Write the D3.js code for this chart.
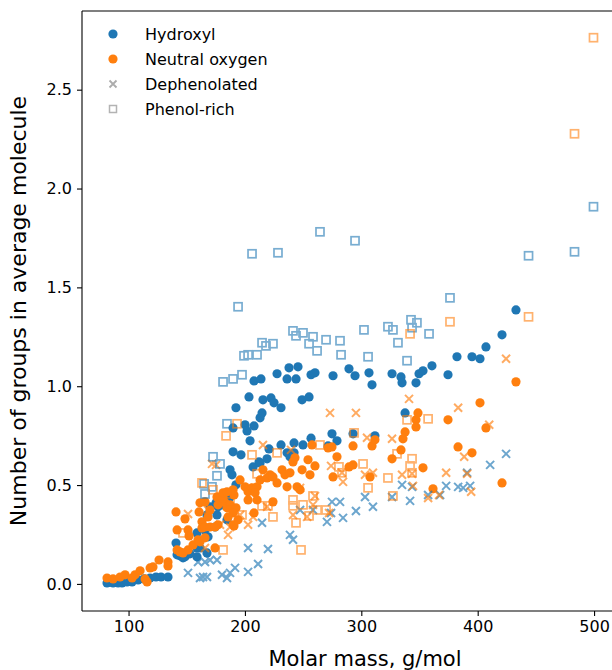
<!DOCTYPE html>
<html>
<head>
<meta charset="utf-8">
<script src="https://cdn.jsdelivr.net/npm/d3@7"></script>
<style>
  html, body { margin: 0; padding: 0; background: #fff; }
  svg { display: block; font-family: "DejaVu Sans", sans-serif; }
</style>
</head>
<body>
<svg id="chart" width="612" height="670"></svg>
<script>
// [molar mass (g/mol), groups per average molecule]
const hydroxyl = [
  [81.5,0.005],[86.7,0.005],[91.0,0.005],[94.4,0.005],[98.7,0.010],[103.0,0.010],[108.2,0.020],[113.3,0.025],
  [118.5,0.030],[123.6,0.035],[127.9,0.035],[133.9,0.035],
  [140.8,0.207],[141.7,0.147],[144.2,0.142],[146.8,0.132],[148.5,0.137],[152.8,0.152],[158.8,0.182],[158.8,0.258],
  [158.8,0.137],[161.4,0.182],[165.7,0.273],[167.4,0.157],[168.3,0.238],[164.0,0.288],[167.4,0.349],[170.0,0.390],
  [174.3,0.288],[175.2,0.410],[176.9,0.435],[176.0,0.349],[176.9,0.390],[184.6,0.324],[184.6,0.450],[187.2,0.440],
  [187.2,0.577],[188.9,0.552],[192.3,0.501],[181.2,0.400],[189.8,0.668],[196.6,0.653],[189.8,0.789],[200.1,0.805],
  [207.8,0.799],[201.8,0.774],[204.4,0.724],[213.0,0.840],[214.7,0.865],[212.1,0.617],[207.0,0.592],[213.0,0.612],
  [219.0,0.633],[220.7,0.683],[231.0,0.703],[236.2,0.663],[238.7,0.643],[242.2,0.713],[242.2,0.663],[249.9,0.703],
  [256.8,0.737],
  [192.3,0.891],[203.5,0.946],[207.8,1.027],[213.8,1.037],[215.5,0.931],[222.4,0.941],[225.0,0.916],[231.0,0.891],
  [227.6,1.063],[237.9,1.093],[245.6,1.098],[236.2,1.037],[243.9,1.037],[249.1,0.931],[255.1,0.946],[256.8,1.058],
  [260.2,1.068],[275.7,1.053],[289.4,1.088],[294.6,1.053],[306.6,1.068],[309.2,1.007],[326.4,1.063],[334.1,1.047],
  [335.0,1.017],[347.0,1.017],[349.6,1.063],[353.0,1.078],[360.7,1.103],[374.5,1.058],[382.2,1.149],[395.1,1.149],
  [402.0,1.139],[407.1,1.199],[420.9,1.260],[432.9,1.386],
  [274.8,0.759],[279.1,0.724],[292.9,0.759],[311.7,0.749],[271.4,0.698],[337.6,0.865]
];

const neutralOxygen = [
  [81.5,0.030],[86.7,0.025],[92.7,0.035],[97.0,0.046],[103.0,0.030],[105.6,0.046],[109.9,0.066],[114.2,0.025],
  [115.9,0.010],[118.5,0.081],[121.0,0.086],[126.2,0.121],[133.9,0.111],[133.9,0.091],
  [140.8,0.364],[141.7,0.273],[148.5,0.329],[151.1,0.273],[152.0,0.243],[141.7,0.172],[144.2,0.162],[146.8,0.157],
  [151.1,0.172],[155.4,0.197],[159.7,0.223],[161.4,0.213],[165.7,0.233],[160.6,0.364],[163.1,0.314],[163.1,0.283],
  [165.7,0.288],[168.3,0.339],[161.4,0.410],[165.7,0.415],[170.0,0.374],[174.3,0.182],[176.0,0.440],[176.9,0.400],
  [176.9,0.299],[184.6,0.385],[182.9,0.410],[170.0,0.288],[174.3,0.288],[181.2,0.435],[181.2,0.461],[187.2,0.400],
  [190.6,0.450],[192.3,0.385],[195.8,0.526],[200.1,0.491],[202.7,0.466],[206.1,0.486],[210.4,0.491],[208.7,0.461],
  [213.0,0.526],[215.5,0.577],[219.0,0.536],[221.6,0.552],[224.1,0.541],[227.6,0.511],[231.9,0.577],[234.4,0.552],
  [238.7,0.562],[241.3,0.617],[243.0,0.638],[236.2,0.491],[244.8,0.491],[249.1,0.577],[254.2,0.628],[224.1,0.415],
  [207.8,0.359],[189.8,0.299],[189.8,0.476],[184.6,0.466],[189.8,0.359],[185.5,0.339],[194.1,0.324],[190.6,0.293],
  [202.7,0.425],[210.4,0.425],[255.9,0.552],[260.2,0.597],[257.6,0.703],
  [271.4,0.688],[274.8,0.693],[279.1,0.643],[292.9,0.698],[309.2,0.698],[311.7,0.729],[292.9,0.602],[289.4,0.592],
  [326.4,0.633],[334.1,0.678],[335.8,0.734],[337.6,0.769],[347.0,0.830],[347.0,0.794],[348.7,0.865],[353.0,0.587],
  [361.6,0.481],[275.7,0.541],[307.5,0.541],[374.5,0.830],[383.1,0.693],[395.1,0.663],[402.0,0.916],[407.1,0.789],
  [420.9,0.511],[432.9,1.022],[247.4,0.476]
];

// dephenolated fractions
const dephenolatedHydroxyl = [
  [151.1,0.056],[159.7,0.111],[161.4,0.030],[164.0,0.035],[167.4,0.035],[165.7,0.111],[170.0,0.121],[176.0,0.121],
  [180.3,0.046],[184.6,0.030],[187.2,0.056],[191.5,0.081],[202.7,0.061],[211.3,0.101],[202.7,0.182],[219.8,0.177],
  [214.7,0.309],[238.7,0.248],[241.3,0.223],[247.4,0.374],[258.5,0.374],[270.5,0.314],[274.8,0.415],[281.7,0.415],
  [274.0,0.359],[284.3,0.334],[295.4,0.369],[303.2,0.440],[310.0,0.390],[326.4,0.440],[335.0,0.501],[343.6,0.491],
  [341.9,0.420],[357.4,0.450],[367.7,0.450],[372.9,0.496],[383.2,0.491],[387.5,0.486],[393.5,0.496],[390.9,0.562],
  [410.7,0.602],[424.4,0.658]
];

const dephenolatedNeutral = [
  [151.1,0.354],[171.7,0.607],[175.2,0.602],[165.7,0.182],[168.3,0.374],[185.5,0.248],[202.7,0.299],[195.8,0.349],
  [178.6,0.299],[187.2,0.288],[215.5,0.703],[202.7,0.486],[207.0,0.339],[219.0,0.390],[239.6,0.678],[241.3,0.349],
  [247.4,0.486],[253.4,0.339],[260.2,0.445],[258.5,0.400],[273.1,0.865],[295.4,0.865],[341.0,0.936],[383.2,0.891],
  [409.9,0.805],[424.4,1.139],[304.9,0.739],[326.4,0.734],[388.4,0.643],[274.0,0.597],[283.4,0.562],[284.3,0.516],
  [303.2,0.552],[310.0,0.562],[335.0,0.552],[344.4,0.496],[343.6,0.557],[372.9,0.562],[390.9,0.557],[394.4,0.466],
  [357.4,0.435],[366.8,0.450],[272.3,0.359]
];

// phenol-rich fractions
const phenolRichHydroxyl = [
  [264.5,1.781],[294.6,1.736],[206.1,1.670],[228.4,1.675],[194.1,1.402],[241.3,1.280],[243.9,1.255],[249.9,1.270],
  [258.5,1.250],[269.7,1.235],[281.7,1.230],[255.1,1.215],[262.0,1.179],[214.7,1.220],[218.1,1.204],[224.1,1.215],
  [282.6,1.159],[199.2,1.154],[202.7,1.159],[210.4,1.159],[181.2,1.022],[189.8,1.037],[197.5,1.058],[443.7,1.660],
  [483.2,1.680],[499.5,1.908],[376.2,1.447],[302.3,1.285],[322.9,1.301],[327.2,1.285],[342.7,1.336],[347.8,1.321],
  [343.6,1.296],[331.5,1.220],[358.2,1.265],[305.8,1.149],[339.3,1.129],[184.6,0.810],[172.6,0.643],[178.6,0.607],
  [176.0,0.547],[164.9,0.506],[171.7,0.491],[165.7,0.455]
];

const phenolRichNeutral = [
  [499.5,2.763],[483.2,2.277],[443.7,1.351],[376.2,1.326],[341.9,1.265],[339.3,0.830],[357.4,0.835],[293.8,0.764],
  [264.5,0.703],[330.7,0.658],[343.6,0.633],[341.9,0.597],[343.6,0.562],[301.5,0.607],[280.8,0.592],[283.4,0.562],
  [322.9,0.536],[305.8,0.486],[327.2,0.445],[258.5,0.445],[255.1,0.344],[262.0,0.374],[269.7,0.374],[248.2,0.172],
  [183.8,0.749],[193.2,0.810],[206.1,0.653],[210.4,0.557],[227.6,0.663],[214.7,0.395],[219.8,0.395],[241.3,0.425],
  [241.3,0.395],[243.9,0.309],[224.1,0.339],[197.5,0.349],[181.2,0.172],[163.1,0.511],[172.6,0.476],[146.8,0.258],
  [249.9,0.400],[187.2,0.415]
];

const legendLabels = ["Hydroxyl", "Neutral oxygen", "Dephenolated", "Phenol-rich"];
const xTicks = [100, 200, 300, 400, 500];
const yTicks = [0, 0.5, 1.0, 1.5, 2.0, 2.5];
const xTitle = "Molar mass, g/mol";
const yTitle = "Number of groups in average molecule";

const BLUE = "#1f77b4", ORANGE = "#ff7f0e", GREY = "#808080";

const svg = d3.select("#chart");
const plotLeft = 82, plotTop = 11, plotBottom = 611, plotRight = 622;

const x = d3.scaleLinear().domain([60, 524]).range([plotLeft, plotRight]);
const y = d3.scaleLinear().domain([-0.137, 2.898]).range([plotBottom, plotTop]);

const plot = svg.append("g");

function circles(data, color) {
  plot.append("g").selectAll("circle").data(data).join("circle")
    .attr("cx", d => x(d[0])).attr("cy", d => y(d[1]))
    .attr("r", 4.6).attr("fill", color);
}
function crosses(data, color) {
  const h = 4;
  plot.append("g").attr("opacity", 0.65).selectAll("path").data(data).join("path")
    .attr("d", d => {
      const cx = x(d[0]), cy = y(d[1]);
      return `M${cx-h},${cy-h}L${cx+h},${cy+h}M${cx-h},${cy+h}L${cx+h},${cy-h}`;
    })
    .attr("stroke", color).attr("stroke-width", 2).attr("fill", "none");
}
function squares(data, color) {
  const s = 8;
  plot.append("g").attr("opacity", 0.6).selectAll("rect").data(data).join("rect")
    .attr("x", d => x(d[0]) - s / 2).attr("y", d => y(d[1]) - s / 2)
    .attr("width", s).attr("height", s)
    .attr("fill", "none").attr("stroke", color).attr("stroke-width", 1.7);
}

circles(hydroxyl, BLUE);
circles(neutralOxygen, ORANGE);
crosses(dephenolatedHydroxyl, BLUE);
crosses(dephenolatedNeutral, ORANGE);
squares(phenolRichHydroxyl, BLUE);
squares(phenolRichNeutral, ORANGE);

// axes
const xAxis = svg.append("g").attr("transform", `translate(0,${plotBottom})`)
  .call(d3.axisBottom(x).tickValues(xTicks).tickFormat(d3.format("d")).tickSize(5).tickPadding(5));
const yAxis = svg.append("g").attr("transform", `translate(${plotLeft},0)`)
  .call(d3.axisLeft(y).tickValues(yTicks).tickFormat(d3.format(".1f")).tickSize(5).tickPadding(5));
[xAxis, yAxis].forEach(g => {
  g.selectAll("text").attr("font-size", 16).attr("font-family", "DejaVu Sans").attr("fill", "#000");
  g.selectAll("line").attr("stroke", "#000").attr("stroke-width", 1.1);
  g.select(".domain").remove();
});

// spines
svg.append("line").attr("x1", plotLeft).attr("x2", plotLeft).attr("y1", plotTop).attr("y2", plotBottom)
  .attr("stroke", "#000").attr("stroke-width", 1.1);
svg.append("line").attr("x1", plotLeft).attr("x2", plotRight).attr("y1", plotBottom).attr("y2", plotBottom)
  .attr("stroke", "#000").attr("stroke-width", 1.1);
svg.append("line").attr("x1", plotLeft).attr("x2", plotRight).attr("y1", plotTop).attr("y2", plotTop)
  .attr("stroke", "#000").attr("stroke-width", 1.1);

// axis titles
svg.append("text").attr("x", 365).attr("y", 666).attr("text-anchor", "middle")
  .attr("font-size", 21).attr("fill", "#000").text(xTitle);
svg.append("text").attr("transform", `translate(26,${(plotTop + plotBottom) / 2}) rotate(-90)`)
  .attr("text-anchor", "middle").attr("font-size", 22).attr("fill", "#000").text(yTitle);

// legend
const legend = svg.append("g");
legendLabels.forEach((label, i) => {
  const cy = 34 + i * 25, cx = 113;
  if (i === 0 || i === 1) {
    legend.append("circle").attr("cx", cx).attr("cy", cy).attr("r", 4.6).attr("fill", i === 0 ? BLUE : ORANGE);
  } else if (i === 2) {
    const h = 3.5;
    legend.append("path").attr("opacity", 0.65)
      .attr("d", `M${cx-h},${cy-h}L${cx+h},${cy+h}M${cx-h},${cy+h}L${cx+h},${cy-h}`)
      .attr("stroke", GREY).attr("stroke-width", 1.8);
  } else {
    legend.append("rect").attr("opacity", 0.6).attr("x", cx - 3.5).attr("y", cy - 3.5)
      .attr("width", 7).attr("height", 7).attr("fill", "none").attr("stroke", GREY).attr("stroke-width", 1.5);
  }
  legend.append("text").attr("x", 145).attr("y", cy).attr("dy", "0.36em")
    .attr("font-size", 16).attr("fill", "#000").text(label);
});
</script>
</body>
</html>
